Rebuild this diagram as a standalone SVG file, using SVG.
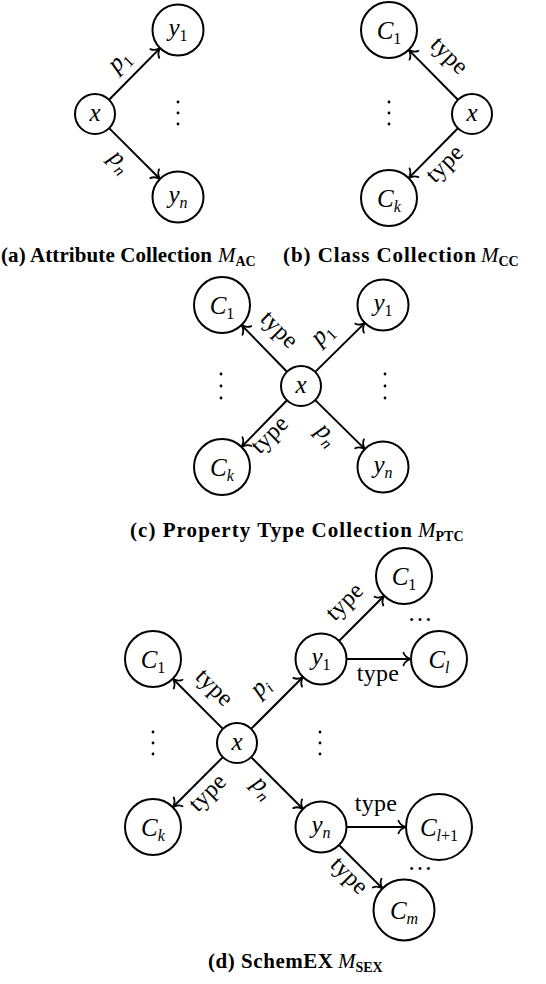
<svg xmlns="http://www.w3.org/2000/svg" width="546" height="984" viewBox="0 0 546 984">
<defs>
<style>
text{font-family:'Liberation Serif','Times New Roman',serif;fill:#000}
.nd{fill:#fff;stroke:#000;stroke-width:2}
.nl{font-size:25px;text-anchor:middle}
.s{font-size:16px;font-style:normal}
.i{font-style:italic}
.e{fill:none;stroke:#000;stroke-width:2;marker-end:url(#arr)}
.el{font-size:25px;text-anchor:middle}
.ty{font-size:24px;letter-spacing:0.3px}
.cap{font-size:21px;font-weight:bold}
.capm{font-size:21px;font-style:italic}
.caps{font-size:14px;font-weight:bold;font-style:normal}
.dot{fill:#000}
</style>
<marker id="arr" markerUnits="userSpaceOnUse" viewBox="-9 -8 11 16" refX="0" refY="0" markerWidth="11" markerHeight="16" orient="auto"><path d="M -7.5 -6.2 C -6.3 -2.8 -2.8 -0.8 0 0 C -2.8 0.8 -6.3 2.8 -7.5 6.2" fill="none" stroke="#000" stroke-width="1.8" stroke-linecap="round"/></marker>
</defs>
<rect width="546" height="984" fill="#fff"/>

<g id="connectors">
<!-- (a) -->
<line class="e" x1="109.1" y1="99.8" x2="160.1" y2="48.1"/>
<line class="e" x1="109.1" y1="128.1" x2="160" y2="179"/>
<!-- (b) -->
<line class="e" x1="457.9" y1="99.8" x2="408.7" y2="49.9"/>
<line class="e" x1="457.9" y1="128.2" x2="408.7" y2="178.1"/>
<!-- (c) -->
<line class="e" x1="287" y1="371.7" x2="241.6" y2="325.1"/>
<line class="e" x1="315.2" y1="371.9" x2="364.9" y2="322.9"/>
<line class="e" x1="287" y1="400.3" x2="241.6" y2="446.9"/>
<line class="e" x1="315.2" y1="400.1" x2="364.9" y2="449.1"/>
<!-- (d) -->
<line class="e" x1="222.9" y1="728.9" x2="172.8" y2="678.8"/>
<line class="e" x1="251.1" y1="728.9" x2="303" y2="677"/>
<line class="e" x1="222.9" y1="757.1" x2="172.8" y2="807.2"/>
<line class="e" x1="251.1" y1="757.1" x2="303" y2="809"/>
<line class="e" x1="339" y1="641" x2="384.2" y2="595.8"/>
<line class="e" x1="346.5" y1="659" x2="411" y2="659"/>
<line class="e" x1="346.5" y1="827" x2="406" y2="827"/>
<line class="e" x1="339" y1="845" x2="382.4" y2="888.4"/>

<g id="edge-labels">
<text class="el i" transform="translate(122,64) rotate(-45)" y="3">p<tspan class="s" dy="5">1</tspan></text>
<text class="el i" transform="translate(117,164) rotate(45)" y="3">p<tspan class="s i" dy="5">n</tspan></text>
<text class="el ty" transform="translate(447,58) rotate(45)" y="4">type</text>
<text class="el ty" transform="translate(447,166) rotate(-45)" y="4">type</text>
<text class="el ty" transform="translate(277,332) rotate(45)" y="4">type</text>
<text class="el i" transform="translate(325,337) rotate(-45)" y="3">p<tspan class="s" dy="5">1</tspan></text>
<text class="el ty" transform="translate(272,437) rotate(-45)" y="4">type</text>
<text class="el i" transform="translate(324,437) rotate(45)" y="3">p<tspan class="s i" dy="5">n</tspan></text>
<text class="el ty" transform="translate(212,690) rotate(45)" y="4">type</text>
<text class="el i" transform="translate(263,690) rotate(-45)" y="3">p<tspan class="s i" dy="5">i</tspan></text>
<text class="el ty" transform="translate(210,795) rotate(-45)" y="4">type</text>
<text class="el i" transform="translate(260,790) rotate(45)" y="3">p<tspan class="s i" dy="5">n</tspan></text>
<text class="el ty" transform="translate(347,604) rotate(-45)" y="4">type</text>
<text class="el ty" x="378" y="681">type</text>
<text class="el ty" x="376" y="811">type</text>
<text class="el ty" transform="translate(347,878) rotate(45)" y="4">type</text>
</g>
</g>

<!-- (a) nodes -->
<g id="a-x"><circle class="nd" cx="95" cy="114" r="20"/><text class="nl i" x="95" y="121">x</text></g>
<g id="a-y1"><circle class="nd" cx="178" cy="30" r="25.5"/><text class="nl i" x="178" y="36">y<tspan class="s" dy="5">1</tspan></text></g>
<g id="a-yn"><circle class="nd" cx="178" cy="197" r="25.5"/><text class="nl i" x="178" y="203">y<tspan class="s i" dy="5">n</tspan></text></g>
<g id="a-dots"><circle class="dot" cx="178" cy="102" r="1.4"/><circle class="dot" cx="178" cy="113" r="1.4"/><circle class="dot" cx="178" cy="124" r="1.4"/></g>

<!-- (b) nodes -->
<g id="b-x"><circle class="nd" cx="472" cy="114" r="20"/><text class="nl i" x="472" y="121">x</text></g>
<g id="b-c1"><circle class="nd" cx="389" cy="30" r="28"/><text class="nl i" x="389" y="39">C<tspan class="s" dy="5">1</tspan></text></g>
<g id="b-ck"><circle class="nd" cx="389" cy="198" r="28"/><text class="nl i" x="389" y="207">C<tspan class="s i" dy="5">k</tspan></text></g>
<g id="b-dots"><circle class="dot" cx="389" cy="102" r="1.4"/><circle class="dot" cx="389" cy="113" r="1.4"/><circle class="dot" cx="389" cy="124" r="1.4"/></g>

<!-- (c) nodes -->
<g id="c-x"><circle class="nd" cx="301" cy="386" r="20"/><text class="nl i" x="301" y="393">x</text></g>
<g id="c-c1"><circle class="nd" cx="222" cy="305" r="28"/><text class="nl i" x="222" y="314">C<tspan class="s" dy="5">1</tspan></text></g>
<g id="c-y1"><circle class="nd" cx="383" cy="305" r="25.5"/><text class="nl i" x="383" y="311">y<tspan class="s" dy="5">1</tspan></text></g>
<g id="c-ck"><circle class="nd" cx="222" cy="467" r="28"/><text class="nl i" x="222" y="476">C<tspan class="s i" dy="5">k</tspan></text></g>
<g id="c-yn"><circle class="nd" cx="383" cy="467" r="25.5"/><text class="nl i" x="383" y="473">y<tspan class="s i" dy="5">n</tspan></text></g>
<g id="c-dots"><circle class="dot" cx="221" cy="374" r="1.4"/><circle class="dot" cx="221" cy="386" r="1.4"/><circle class="dot" cx="221" cy="398" r="1.4"/><circle class="dot" cx="385" cy="374" r="1.4"/><circle class="dot" cx="385" cy="386" r="1.4"/><circle class="dot" cx="385" cy="398" r="1.4"/></g>

<!-- (d) nodes -->
<g id="d-x"><circle class="nd" cx="237" cy="743" r="20"/><text class="nl i" x="237" y="750">x</text></g>
<g id="d-c1"><circle class="nd" cx="153" cy="659" r="28"/><text class="nl i" x="153" y="668">C<tspan class="s" dy="5">1</tspan></text></g>
<g id="d-y1"><circle class="nd" cx="321" cy="659" r="25.5"/><text class="nl i" x="321" y="665">y<tspan class="s" dy="5">1</tspan></text></g>
<g id="d-ck"><circle class="nd" cx="153" cy="827" r="28"/><text class="nl i" x="153" y="836">C<tspan class="s i" dy="5">k</tspan></text></g>
<g id="d-yn"><circle class="nd" cx="321" cy="827" r="25.5"/><text class="nl i" x="321" y="833">y<tspan class="s i" dy="5">n</tspan></text></g>
<g id="d-c1r"><circle class="nd" cx="404" cy="576" r="28"/><text class="nl i" x="404" y="585">C<tspan class="s" dy="5">1</tspan></text></g>
<g id="d-cl"><circle class="nd" cx="439" cy="659" r="28"/><text class="nl i" x="439" y="668">C<tspan class="s i" dy="5">l</tspan></text></g>
<g id="d-cl1"><circle class="nd" cx="439" cy="827" r="33"/><text class="nl i" x="439" y="836">C<tspan class="s" dy="5"><tspan class="i">l</tspan>+1</tspan></text></g>
<g id="d-cm"><circle class="nd" cx="404" cy="910" r="30.5"/><text class="nl i" x="404" y="919">C<tspan class="s i" dy="5">m</tspan></text></g>
<g id="d-dots"><circle class="dot" cx="153" cy="732" r="1.4"/><circle class="dot" cx="153" cy="743" r="1.4"/><circle class="dot" cx="153" cy="754" r="1.4"/><circle class="dot" cx="320" cy="732" r="1.4"/><circle class="dot" cx="320" cy="743" r="1.4"/><circle class="dot" cx="320" cy="754" r="1.4"/></g>
<text class="nl" x="420" y="621">…</text>
<text class="nl" x="420" y="870">…</text>

<!-- captions -->
<g id="captions">
<text class="cap" x="1" y="262" textLength="211" lengthAdjust="spacing">(a) Attribute Collection</text>
<text class="capm" x="218" y="262">M<tspan class="caps" dy="4">AC</tspan></text>
<text class="cap" x="283" y="262" textLength="193" lengthAdjust="spacing">(b) Class Collection</text>
<text class="capm" x="481" y="262">M<tspan class="caps" dy="4">CC</tspan></text>
<text class="cap" x="130" y="537" textLength="282" lengthAdjust="spacing">(c) Property Type Collection</text>
<text class="capm" x="418" y="537">M<tspan class="caps" dy="4">PTC</tspan></text>
<text class="cap" x="208" y="968" textLength="125" lengthAdjust="spacing">(d) SchemEX</text>
<text class="capm" x="338" y="968">M<tspan class="caps" dy="4">SEX</tspan></text>
</g>
</svg>
